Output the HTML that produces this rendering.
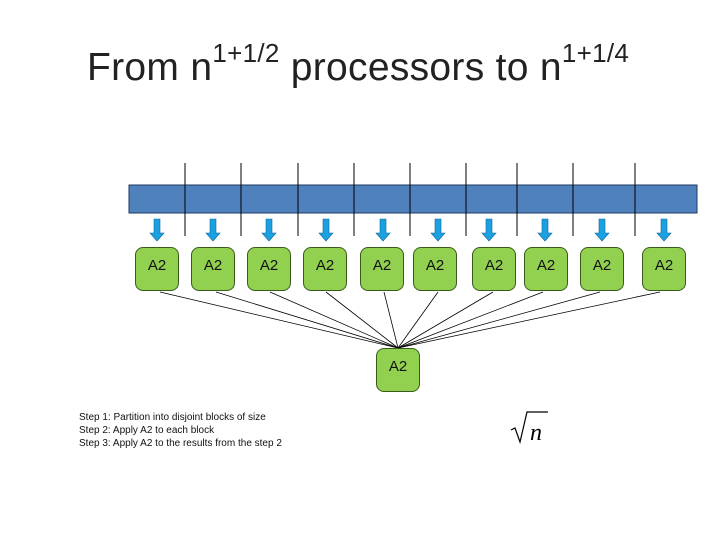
<!DOCTYPE html>
<html><head><style>
body{margin:0;width:720px;height:540px;background:#fff;overflow:hidden;position:relative;font-family:"Liberation Sans",sans-serif}
.t{position:absolute;left:87px;top:42px;font-size:39px;color:#222;white-space:nowrap;letter-spacing:0.3px}
.t sup{font-size:26px;position:relative;top:-4px}
.b{position:absolute;width:44px;height:44px;background:#92d050;border:1px solid #3a5a1a;border-radius:8px;font-size:15px;text-align:center;line-height:36px;color:#111;box-sizing:border-box}
.s{position:absolute;left:79px;top:411px;font-size:10px;line-height:13px;color:#111}
</style></head><body>
<div class="t">From n<sup>1+1/2</sup> processors to n<sup>1+1/4</sup></div>
<svg width="720" height="540" style="position:absolute;left:0;top:0">
<rect x="129" y="185" width="568" height="28" fill="#4f81bd" stroke="#1f3a60" stroke-width="1"/>
<g stroke="#000" stroke-width="1">
<line x1="185" y1="163" x2="185" y2="236"/><line x1="241" y1="163" x2="241" y2="236"/>
<line x1="298" y1="163" x2="298" y2="236"/><line x1="354" y1="163" x2="354" y2="236"/>
<line x1="410" y1="163" x2="410" y2="236"/><line x1="466" y1="163" x2="466" y2="236"/>
<line x1="517" y1="163" x2="517" y2="236"/><line x1="573" y1="163" x2="573" y2="236"/>
<line x1="635" y1="163" x2="635" y2="236"/>
</g>
<g fill="#1ba1e2" stroke="#0e6a98" stroke-width="0.6">
<path d="M154 219h6v14h4l-7 8l-7-8h4z"/>
<path d="M210 219h6v14h4l-7 8l-7-8h4z"/>
<path d="M266 219h6v14h4l-7 8l-7-8h4z"/>
<path d="M323 219h6v14h4l-7 8l-7-8h4z"/>
<path d="M380 219h6v14h4l-7 8l-7-8h4z"/>
<path d="M435 219h6v14h4l-7 8l-7-8h4z"/>
<path d="M486 219h6v14h4l-7 8l-7-8h4z"/>
<path d="M542 219h6v14h4l-7 8l-7-8h4z"/>
<path d="M599 219h6v14h4l-7 8l-7-8h4z"/>
<path d="M661 219h6v14h4l-7 8l-7-8h4z"/>
</g>
<g stroke="#000" stroke-width="0.8">
<line x1="160" y1="292" x2="398" y2="348"/><line x1="216" y1="292" x2="398" y2="348"/>
<line x1="270" y1="292" x2="398" y2="348"/><line x1="326" y1="292" x2="398" y2="348"/>
<line x1="384" y1="292" x2="398" y2="348"/><line x1="438" y1="292" x2="398" y2="348"/>
<line x1="493" y1="292" x2="398" y2="348"/><line x1="543" y1="292" x2="398" y2="348"/>
<line x1="600" y1="292" x2="398" y2="348"/><line x1="660" y1="292" x2="398" y2="348"/>
</g>
<text x="530" y="440" font-family="Liberation Serif,serif" font-size="24" font-style="italic">n</text>
<path d="M511 430l4-2l5 14l7-30h21" fill="none" stroke="#000" stroke-width="1.2"/>
</svg>
<div class="b" style="left:135px;top:247px">A2</div>
<div class="b" style="left:191px;top:247px">A2</div>
<div class="b" style="left:247px;top:247px">A2</div>
<div class="b" style="left:303px;top:247px">A2</div>
<div class="b" style="left:360px;top:247px">A2</div>
<div class="b" style="left:413px;top:247px">A2</div>
<div class="b" style="left:472px;top:247px">A2</div>
<div class="b" style="left:524px;top:247px">A2</div>
<div class="b" style="left:580px;top:247px">A2</div>
<div class="b" style="left:642px;top:247px">A2</div>
<div class="b" style="left:376px;top:348px">A2</div>
<div class="s">Step 1: Partition into disjoint blocks of size<br>Step 2: Apply A2 to each block<br>Step 3: Apply A2 to the results from the step 2</div>
</body></html>
